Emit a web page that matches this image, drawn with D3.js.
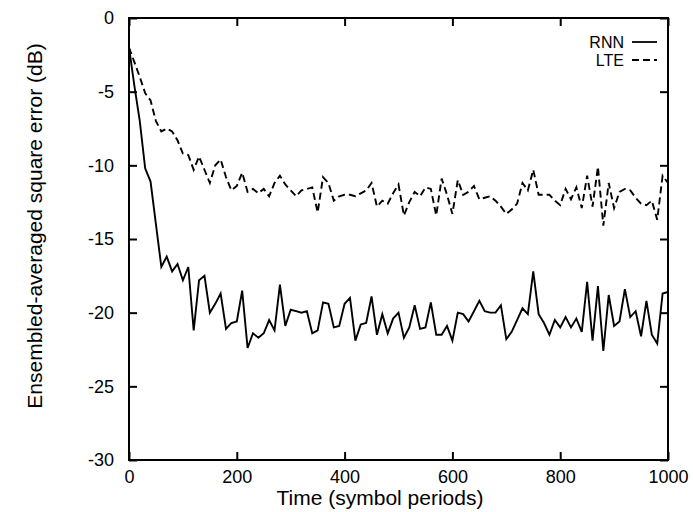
<!DOCTYPE html>
<html>
<head>
<meta charset="utf-8">
<script src="https://cdn.jsdelivr.net/npm/d3@7"></script>
<style>
  body { margin: 0; background: #fff; }
  text { font-family: "Liberation Sans", Arial, sans-serif; fill: #000; }
</style>
</head>
<body>
<div id="chart"></div>
<script>
// sample times (symbol periods)
var timeSteps = [0, 10, 20, 30, 40, 50, 60, 70, 80, 90,
  100, 110, 120, 130, 140, 150, 160, 170, 180, 190,
  200, 210, 220, 230, 240, 250, 260, 270, 280, 290,
  300, 310, 320, 330, 340, 350, 360, 370, 380, 390,
  400, 410, 420, 430, 440, 450, 460, 470, 480, 490,
  500, 510, 520, 530, 540, 550, 560, 570, 580, 590,
  600, 610, 620, 630, 640, 650, 660, 670, 680, 690,
  700, 710, 720, 730, 740, 750, 760, 770, 780, 790,
  800, 810, 820, 830, 840, 850, 860, 870, 880, 890,
  900, 910, 920, 930, 940, 950, 960, 970, 980, 990, 1000];

var rnnValues = [-2.0, -4.6, -7.0, -10.2, -11.1, -14.0, -16.9, -16.2, -17.2, -16.7,
  -17.8, -16.9, -21.2, -17.8, -17.5, -20.0, -19.4, -18.7, -21.1, -20.7,
  -20.6, -18.5, -22.4, -21.4, -21.7, -21.4, -20.5, -21.2, -18.1, -20.9,
  -19.8, -19.9, -20.0, -19.9, -21.4, -21.2, -19.3, -19.4, -21.0, -20.9,
  -19.4, -19.0, -21.9, -20.8, -20.7, -18.9, -21.5, -20.1, -21.4, -20.4,
  -20.0, -21.7, -21.0, -19.5, -21.1, -21.0, -19.3, -21.5, -21.5, -20.9,
  -21.9, -20.0, -20.1, -20.6, -19.9, -19.2, -19.9, -20.0, -20.0, -19.5,
  -21.8, -21.3, -20.5, -19.7, -20.1, -17.2, -20.1, -20.7, -21.5, -20.5,
  -21.0, -20.3, -21.0, -20.4, -21.3, -17.9, -21.9, -18.2, -22.6, -18.8,
  -20.9, -20.6, -18.4, -20.3, -19.9, -21.6, -19.2, -21.5, -22.1, -18.7, -18.6];

var lteValues = [-2.0, -3.0, -4.0, -5.1, -5.6, -7.0, -7.7, -7.5, -7.7, -8.3,
  -9.2, -9.3, -10.3, -9.4, -10.3, -11.2, -10.0, -9.6, -10.8, -11.7,
  -11.4, -10.5, -11.8, -11.6, -11.9, -11.6, -12.1, -11.2, -10.7, -11.3,
  -11.7, -12.1, -11.7, -11.6, -11.5, -13.2, -10.8, -11.2, -12.4, -12.1,
  -12.0, -12.0, -12.1, -11.9, -11.7, -11.2, -12.8, -12.4, -12.6, -11.9,
  -11.3, -13.4, -12.5, -11.8, -12.1, -11.5, -11.6, -13.4, -10.9, -12.0,
  -13.3, -11.0, -12.0, -11.8, -11.4, -12.3, -12.2, -12.1, -12.4, -12.8,
  -13.3, -13.0, -12.6, -11.2, -11.7, -10.3, -12.0, -12.0, -12.0, -12.4,
  -12.7, -11.6, -12.3, -11.5, -12.9, -10.7, -12.8, -10.1, -14.1, -11.2,
  -12.9, -11.8, -11.6, -11.7, -12.2, -12.6, -12.7, -12.4, -13.7, -10.7, -11.2];

var seriesNames = ["RNN", "LTE"];
var xTicks = [0, 200, 400, 600, 800, 1000];
var yTicks = [0, -5, -10, -15, -20, -25, -30];

var svgWidth = 693;
var svgHeight = 512;

// plot frame inside the svg
var margin = { top: 18, right: 25, bottom: 52, left: 129 };
var width = svgWidth - margin.left - margin.right;
var height = svgHeight - margin.top - margin.bottom;

var svg = d3.select("#chart")
    .append("svg")
    .attr("width", svgWidth)
    .attr("height", svgHeight);

var chartGroup = svg.append("g")
    .attr("transform", `translate(${margin.left}, ${margin.top})`);

var xScale = d3.scaleLinear().domain([0, 1000]).range([0, width]);
var yScale = d3.scaleLinear().domain([-30, 0]).range([height, 0]);

// plain hyphen minus, no thousands separator
var plainFormat = d => String(d);

// axes with inward ticks
var bottomAxis = d3.axisBottom(xScale).tickValues(xTicks).tickFormat(plainFormat)
    .tickSizeInner(-8).tickSizeOuter(0).tickPadding(10);
var leftAxis = d3.axisLeft(yScale).tickValues(yTicks).tickFormat(plainFormat)
    .tickSizeInner(-8).tickSizeOuter(0).tickPadding(15);
var topAxis = d3.axisTop(xScale).tickValues(xTicks).tickSizeInner(-8).tickSizeOuter(0).tickFormat("");
var rightAxis = d3.axisRight(yScale).tickValues(yTicks).tickSizeInner(-8).tickSizeOuter(0).tickFormat("");

function styleAxis(g) {
    g.select(".domain").remove();
    g.selectAll(".tick line").attr("stroke", "#000").attr("stroke-width", 2);
    g.selectAll(".tick text")
        .attr("fill", "#000")
        .attr("font-size", 18)
        .attr("font-family", "Liberation Sans, Arial, sans-serif");
}

chartGroup.append("g").attr("transform", `translate(0, ${height})`).call(bottomAxis).call(styleAxis);
chartGroup.append("g").call(leftAxis).call(styleAxis);
chartGroup.append("g").call(topAxis).call(styleAxis);
chartGroup.append("g").attr("transform", `translate(${width}, 0)`).call(rightAxis).call(styleAxis);

// frame
chartGroup.append("rect")
    .attr("x", 0).attr("y", 0)
    .attr("width", width).attr("height", height)
    .attr("fill", "none")
    .attr("stroke", "#000")
    .attr("stroke-width", 2);

var line = d3.line()
    .x(d => xScale(d[0]))
    .y(d => yScale(d[1]));

var dashes = ["none", "7,4"];

[rnnValues, lteValues].forEach(function (vals, i) {
    chartGroup.append("path")
        .datum(timeSteps.map((t, j) => [t, vals[j]]))
        .attr("fill", "none")
        .attr("stroke", "#000")
        .attr("stroke-width", 1.9)
        .attr("stroke-dasharray", dashes[i])
        .attr("d", line);
});

// legend
var legend = chartGroup.append("g").attr("transform", `translate(${width - 36}, 24)`);
seriesNames.forEach(function (name, i) {
    legend.append("text")
        .attr("x", -8)
        .attr("y", i * 18)
        .attr("dy", "0.35em")
        .attr("text-anchor", "end")
        .attr("font-size", 16)
        .text(name);
    legend.append("line")
        .attr("x1", 0).attr("x2", 25)
        .attr("y1", i * 18).attr("y2", i * 18)
        .attr("stroke", "#000")
        .attr("stroke-width", 1.8)
        .attr("stroke-dasharray", dashes[i]);
});

// axis titles
svg.append("text")
    .attr("x", 380)
    .attr("y", 505)
    .attr("text-anchor", "middle")
    .attr("font-size", 21)
    .text("Time (symbol periods)");

svg.append("text")
    .attr("transform", `translate(42, 226) rotate(-90)`)
    .attr("text-anchor", "middle")
    .attr("font-size", 21)
    .text("Ensembled-averaged square error (dB)");
</script>
</body>
</html>
